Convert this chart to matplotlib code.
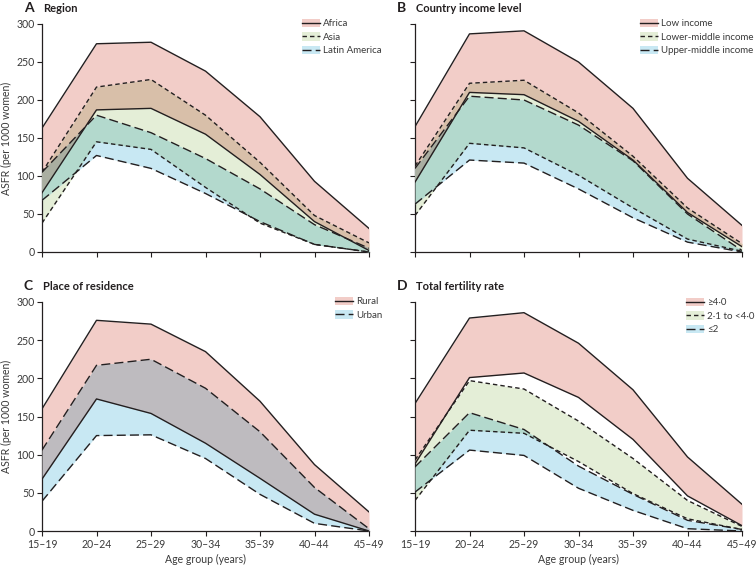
from itertools import combinations
import numpy as np
import matplotlib
matplotlib.use("Agg")
import matplotlib.pyplot as plt
from matplotlib.patches import Patch
from matplotlib.lines import Line2D

plt.rcParams['font.family'] = ['Lato', 'DejaVu Sans']

ages = ['15–19', '20–24', '25–29', '30–34', '35–39', '40–44', '45–49']

# A  Region (upper and lower bound of each band)
africa_hi = [163, 274, 276, 238, 178, 93, 31]
africa_lo = [78, 187, 189, 155, 102, 40, 2]
asia_hi = [105, 217, 227, 180, 118, 48, 12]
asia_lo = [38, 145, 135, 85, 38, 10, 0]
latam_hi = [105, 180, 157, 123, 83, 36, 5]
latam_lo = [68, 127, 110, 77, 40, 10, 0]

# B  Country income level
lowinc_hi = [165, 287, 291, 250, 189, 97, 35]
lowinc_lo = [92, 210, 207, 172, 121, 52, 7]
lowmid_hi = [113, 222, 226, 183, 126, 58, 11]
lowmid_lo = [48, 143, 137, 101, 58, 17, 1]
upmid_hi = [110, 205, 200, 167, 120, 50, 2]
upmid_lo = [63, 121, 117, 83, 45, 13, 0]

# C  Place of residence
rural_hi = [160, 276, 271, 235, 170, 87, 25]
rural_lo = [68, 173, 154, 115, 69, 22, 0]
urban_hi = [106, 217, 225, 187, 130, 57, 3]
urban_lo = [39, 125, 126, 95, 48, 10, 0]

# D  Total fertility rate
tfr4_hi = [167, 279, 286, 246, 185, 97, 35]
tfr4_lo = [88, 201, 207, 175, 120, 46, 7]
tfr2_hi = [93, 197, 186, 144, 95, 40, 6]
tfr2_lo = [40, 132, 128, 91, 49, 16, 2]
tfrlow_hi = [84, 155, 133, 85, 48, 14, 2]
tfrlow_lo = [51, 106, 99, 56, 27, 3, 0]

PINK = np.array([242, 205, 200]) / 255
GREEN = np.array([228, 238, 215]) / 255
BLUE = np.array([200, 232, 243]) / 255
INK = '#231f20'
TXT = '#3a3a3a'
SOLID = '-'
SHORT = (0, (3.2, 2.2))
LONG = (0, (6.5, 3))

W, H = 756, 567
fig = plt.figure(figsize=(7.56, 5.67), dpi=100)


def draw_panel(ax, bands):
    x = np.arange(len(ages))
    xf = np.linspace(0, len(ages) - 1, 1201)
    dense = [(np.interp(xf, x, b[1]), np.interp(xf, x, b[0]), b[2]) for b in bands]
    # overlapping areas look like multiplied colours
    for k in range(1, len(dense) + 1):
        for combo in combinations(range(len(dense)), k):
            lo = np.max([dense[i][0] for i in combo], axis=0)
            hi = np.min([dense[i][1] for i in combo], axis=0)
            col = np.prod([dense[i][2] for i in combo], axis=0)
            ax.fill_between(xf, lo, hi, where=hi > lo, color=col, lw=0,
                            interpolate=True, zorder=1 + k)
    handles = []
    for hi, lo, col, ls, label in bands:
        ax.plot(x, hi, color=INK, lw=1.0, ls=ls, zorder=6)
        ax.plot(x, lo, color=INK, lw=1.0, ls=ls, zorder=6)
        handles.append((Patch(facecolor=col, edgecolor='none'),
                        Line2D([], [], color=INK, lw=1.0, ls=ls)))
    ax.set_xlim(0, len(ages) - 1)
    ax.set_ylim(0, 300)
    ax.set_xticks(x)
    ax.set_yticks(range(0, 301, 50))
    for s in ['top', 'right']:
        ax.spines[s].set_visible(False)
    for s in ['left', 'bottom']:
        ax.spines[s].set_color(INK)
        ax.spines[s].set_linewidth(0.9)
    ax.tick_params(direction='out', length=3.5, width=0.8, color=INK,
                   labelsize=7.6, labelcolor=TXT, pad=2)
    return handles


def add_axes(x0, x1, ytop, ybot):
    return fig.add_axes([x0 / W, 1 - ybot / H, (x1 - x0) / W, (ybot - ytop) / H])


panels = [
    ('A', 'Region', (42, 369, 24, 252), (302, 19),
     [(africa_hi, africa_lo, PINK, SOLID, 'Africa'),
      (asia_hi, asia_lo, GREEN, SHORT, 'Asia'),
      (latam_hi, latam_lo, BLUE, LONG, 'Latin America')]),
    ('B', 'Country income level', (415, 742, 24, 252), (640, 19),
     [(lowinc_hi, lowinc_lo, PINK, SOLID, 'Low income'),
      (lowmid_hi, lowmid_lo, GREEN, SHORT, 'Lower-middle income'),
      (upmid_hi, upmid_lo, BLUE, LONG, 'Upper-middle income')]),
    ('C', 'Place of residence', (42, 369, 302, 531), (335, 297),
     [(rural_hi, rural_lo, PINK, SOLID, 'Rural'),
      (urban_hi, urban_lo, BLUE, LONG, 'Urban')]),
    ('D', 'Total fertility rate', (415, 742, 302, 531), (686, 298),
     [(tfr4_hi, tfr4_lo, PINK, SOLID, '≥4·0'),
      (tfr2_hi, tfr2_lo, GREEN, SHORT, '2·1 to <4·0'),
      (tfrlow_hi, tfrlow_lo, BLUE, LONG, '≤2')]),
]

for letter, title, box, legpos, bands in panels:
    ax = add_axes(*box)
    handles = draw_panel(ax, bands)
    left_col = letter in 'AC'
    bottom_row = letter in 'CD'
    if left_col:
        ax.set_ylabel('ASFR (per 1000 women)', fontsize=7.6, color=TXT, labelpad=3)
    else:
        ax.set_yticklabels([])
    if bottom_row:
        ax.set_xticklabels(ages)
        ax.set_xlabel('Age group (years)', fontsize=7.6, color=TXT, labelpad=3)
    else:
        ax.set_xticklabels([])
    ty = 8 if not bottom_row else 286
    fig.text((box[0] - 18) / W, 1 - ty / H, letter, fontsize=10, fontweight='bold',
             color=INK, va='center', ha='left')
    fig.text((box[0] + 1) / W, 1 - ty / H, title, fontsize=8, fontweight='bold',
             color=INK, va='center', ha='left')
    ax.legend(handles, [b[4] for b in bands], loc='upper left',
              bbox_to_anchor=(legpos[0] / W, 1 - legpos[1] / H),
              bbox_transform=fig.transFigure, frameon=False, fontsize=7,
              handlelength=1.85, handleheight=0.9, handletextpad=0.35,
              labelspacing=0.42, borderpad=0, borderaxespad=0,
              labelcolor=TXT)

fig.savefig('out.png', dpi=100)
